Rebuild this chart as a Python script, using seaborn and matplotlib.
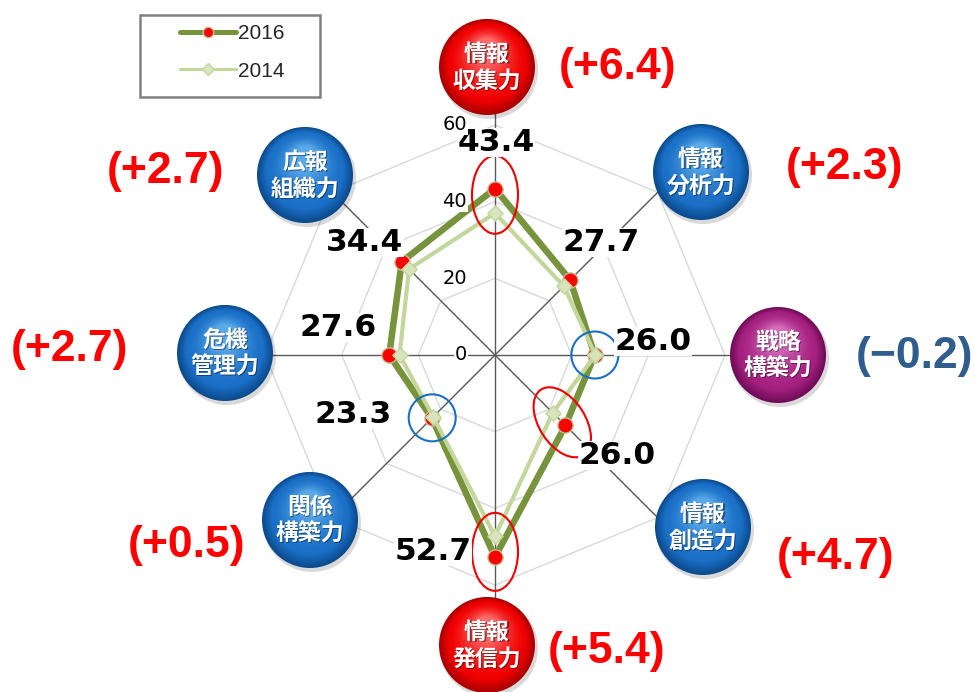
import numpy as np
import pandas as pd
import seaborn as sns
import matplotlib.pyplot as plt
from matplotlib.patches import Circle, Ellipse, Rectangle
from matplotlib.lines import Line2D
from matplotlib.colors import to_rgb

sns.set_style("white")
plt.rcParams['font.family'] = ['DejaVu Sans', 'Noto Sans CJK JP']

# data, clockwise from the top
categories = ["情報\n収集力", "情報\n分析力", "戦略\n構築力", "情報\n創造力",
              "情報\n発信力", "関係\n構築力", "危機\n管理力", "広報\n組織力"]
values_2016 = [43.4, 27.7, 26.0, 26.0, 52.7, 23.3, 27.6, 34.4]
values_2014 = [37.0, 25.4, 26.2, 21.3, 47.3, 22.8, 24.9, 31.7]
rings = [20, 40, 60]
years = ["2016", "2014"]

# layout (pixels of the 975x692 picture)
W, H = 975, 692
CX, CY = 495, 355
S = 230 / 60  # px per unit

badge_pos = [(487, 67), (701, 172), (778, 355), (703, 527),
             (487, 645), (310, 520), (225, 353), (305, 175)]
badge_kind = ["red", "blue", "purple", "blue", "red", "blue", "blue", "blue"]
value_pos = [(496, 143), (601, 243), (653, 342), (617, 456),
             (433, 551), (353, 415), (338, 328), (365, 243)]
diff_pos = [(618, 68), (845, 168), (915, 357), (836, 557),
            (607, 652), (187, 546), (70, 350), (166, 172)]
highlights = {0: "red", 3: "red", 4: "red", 2: "blue", 5: "blue"}

# rim, body, highlight
badge_colors = {
    "red": ("#a80000", "#f00000", "#ff6a6a"),
    "blue": ("#0c4a8c", "#1a6fc6", "#5aaaea"),
    "purple": ("#6e0c58", "#a5207f", "#d36bbb"),
}


def px(x, y):
    return (x - CX) / S, (CY - y) / S


def polar_xy(vals):
    ang = np.deg2rad(np.arange(len(vals)) * 45)
    v = np.asarray(vals)
    return v * np.sin(ang), v * np.cos(ang)


def mix(c1, c2, f):
    a, b = np.array(to_rgb(c1)), np.array(to_rgb(c2))
    return tuple(a + (b - a) * f)


fig = plt.figure(figsize=(W / 100, H / 100), dpi=100)
ax = fig.add_axes([0, 0, 1, 1])
ax.set_xlim(-CX / S, (W - CX) / S)
ax.set_ylim(-(H - CY) / S, CY / S)
ax.axis("off")

# grid rings (octagons) and spokes
n = len(categories)
for r in rings:
    gx, gy = polar_xy([r] * n)
    ax.plot(np.append(gx, gx[0]), np.append(gy, gy[0]), color="#d9d9d9", lw=1, zorder=1)
sx, sy = polar_xy([70] * n)
for i in range(n):
    ax.plot([0, sx[i]], [0, sy[i]], color="#595959", lw=1, zorder=1)

for r in [0] + rings:
    ax.text(-28 / S, r, str(r), ha="right", va="center", fontsize=14, color="black",
            bbox=dict(facecolor="white", edgecolor="none", pad=0.5), zorder=9)

# series
x16, y16 = polar_xy(values_2016)
x14, y14 = polar_xy(values_2014)
df16 = pd.DataFrame({"x": np.append(x16, x16[0]), "y": np.append(y16, y16[0])})
df14 = pd.DataFrame({"x": np.append(x14, x14[0]), "y": np.append(y14, y14[0])})
sns.lineplot(data=df16, x="x", y="y", sort=False, estimator=None, ax=ax,
             color="#77933c", lw=4.7, zorder=3)
ax.scatter(x16, y16, s=120, color="#ff0000", edgecolor="#c4bd97", lw=1, zorder=4)
sns.lineplot(data=df14, x="x", y="y", sort=False, estimator=None, ax=ax,
             color="#c3d69b", lw=3, zorder=5)
ax.scatter(x14, y14, s=60, marker="D", color="#d7e4bd", edgecolor="#c3d69b", lw=1, zorder=6)

# highlight rings
for i, kind in highlights.items():
    hx = 0.75 * x16[i] + 0.25 * x14[i]
    hy = 0.75 * y16[i] + 0.25 * y14[i]
    if kind == "blue":
        ax.add_patch(Circle((hx, hy), 23.5 / S, fill=False, ec="#1a6fc4", lw=1.5, zorder=7))
    else:
        ax.add_patch(Ellipse((hx, hy), 78 / S, 46 / S, angle=90 if i != 3 else -57,
                             fill=False, ec="#f00000", lw=1.5, zorder=7))

# value labels
for v, (lx, ly) in zip(values_2016, value_pos):
    ax.text(*px(lx, ly), f"{v:.1f}", ha="center", va="center", fontsize=22.5,
            fontweight="bold", color="black",
            bbox=dict(facecolor="white", edgecolor="none", pad=0), zorder=8)

# badges
R = 48
for cat, (bx, by), kind in zip(categories, badge_pos, badge_kind):
    rim, body, light = badge_colors[kind]
    cx, cy = px(bx, by)
    ax.add_patch(Circle((cx + 2 / S, cy - 3 / S), (R + 1) / S, color="#000000",
                        alpha=0.15, lw=0, zorder=9))
    steps = 36
    for k in range(steps):
        f = k / (steps - 1)
        if f < 0.25:
            col = mix(rim, body, f / 0.25)
        else:
            col = mix(body, light, ((f - 0.25) / 0.75) ** 1.6)
        ax.add_patch(Circle((cx, cy + 0.35 * R * f / S), R * (1 - 0.75 * f) / S,
                            color=col, lw=0, zorder=9))
    l1, l2 = cat.split("\n")
    for txt, dy in ((l1, -13), (l2, 14)):
        ax.text(*px(bx + 1, by + dy + 1), txt, ha="center", va="center", color="#00000066",
                fontsize=16.5, fontweight="bold", family=["Noto Sans CJK JP"], zorder=10)
        ax.text(*px(bx, by + dy), txt, ha="center", va="center", color="white",
                fontsize=16.5, fontweight="bold", family=["Noto Sans CJK JP"], zorder=10)

# change labels
for a, b, (dx, dy) in zip(values_2016, values_2014, diff_pos):
    d = round(a - b, 1)
    txt = f"(+{d:.1f})" if d >= 0 else f"(\u2212{abs(d):.1f})"
    col = "#ff0000" if d >= 0 else "#2e5d8e"
    ax.text(*px(dx, dy), txt, ha="center", va="center", fontsize=32,
            fontweight="bold", color=col, family=["Liberation Sans"], zorder=10)

# legend
fig.patches.append(Rectangle((140 / W, 1 - 97 / H), 180 / W, 82 / H, transform=fig.transFigure,
                             fill=False, ec="#808080", lw=1.8))
handles = [
    Line2D([], [], color="#77933c", lw=3.6, marker="o", ms=7.5, mfc="#ff0000", mec="#c4bd97"),
    Line2D([], [], color="#c3d69b", lw=2.2, marker="D", ms=6, mfc="#d7e4bd", mec="#c3d69b"),
]
fig.legend(handles, years, loc="upper left", bbox_to_anchor=(180 / W, 1 - 24 / H),
           frameon=False, handlelength=2.7, handletextpad=0.1,
           labelspacing=0.9, borderpad=0, borderaxespad=0,
           prop={"family": "Liberation Sans", "size": 15})

fig.savefig("out.png", dpi=100)
